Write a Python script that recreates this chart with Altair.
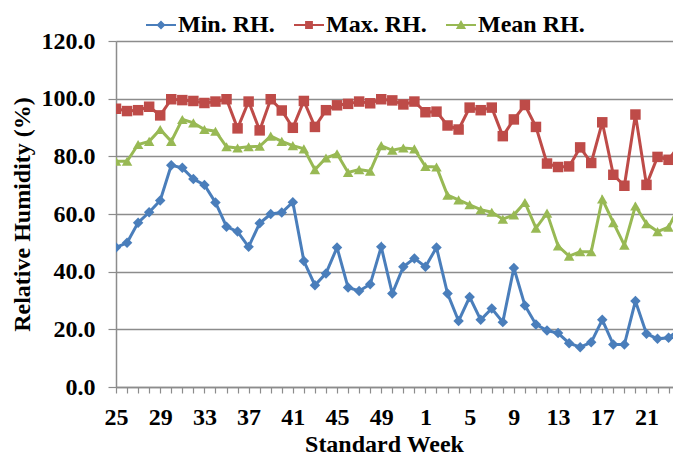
import json
import altair as alt
import pandas as pd

weeks = [25, 26, 27, 28, 29, 30, 31, 32, 33, 34, 35, 36, 37, 38, 39, 40, 41, 42, 43, 44,
         45, 46, 47, 48, 49, 50, 51, 52, 1, 2, 3, 4, 5, 6, 7, 8, 9, 10, 11, 12,
         13, 14, 15, 16, 17, 18, 19, 20, 21, 22, 23, 24]

min_rh = [48.4, 50.0, 57.0, 60.6, 64.7, 76.9, 76.0, 72.1, 70.1, 64.0, 55.6, 53.9, 48.6,
          56.8, 60.0, 60.5, 64.1, 43.7, 35.3, 39.4, 48.4, 34.5, 33.3, 35.6, 48.6, 32.4,
          41.7, 44.6, 41.7, 48.4, 32.4, 22.9, 31.2, 23.3, 27.2, 22.5, 41.3, 28.3, 21.7,
          19.6, 18.7, 15.2, 13.8, 15.5, 23.3, 14.7, 14.7, 29.8, 18.5, 16.7, 17.1, 20.0]

max_rh = [96.5, 95.7, 96.0, 97.2, 94.2, 99.8, 99.5, 99.2, 98.5, 99.0, 99.8, 89.7, 99.0,
          89.0, 99.8, 95.9, 89.9, 99.2, 90.2, 96.0, 97.7, 98.2, 99.0, 98.4, 99.8, 99.4,
          98.0, 99.0, 95.3, 95.5, 90.7, 89.3, 96.9, 96.0, 96.9, 87.0, 92.8, 97.8, 90.2,
          77.5, 76.3, 76.5, 83.1, 77.7, 91.8, 73.6, 69.8, 94.5, 70.1, 79.8, 78.8, 84.0]

mean_rh = [78.3, 78.3, 84.1, 85.2, 89.3, 85.2, 92.8, 91.6, 89.3, 88.7, 83.3, 82.9, 83.3,
           83.5, 87.0, 85.2, 83.7, 82.6, 75.4, 79.4, 80.9, 74.4, 75.4, 74.8, 83.7, 82.1,
           82.9, 82.6, 76.5, 76.3, 66.5, 64.9, 63.2, 61.5, 60.6, 58.2, 59.7, 64.0, 55.1,
           60.3, 48.9, 45.4, 46.9, 46.9, 65.2, 57.0, 49.2, 62.8, 56.6, 53.9, 55.4, 63.0]

series_names = ["Min. RH.", "Max. RH.", "Mean RH."]
series_colors = ["#4A7EBB", "#BE4B48", "#98B954"]
y_ticks = [0, 20, 40, 60, 80, 100, 120]

rows = []
for name, vals in zip(series_names, [min_rh, max_rh, mean_rh]):
    for i, (w, v) in enumerate(zip(weeks, vals)):
        rows.append({"idx": i, "week": w, "value": v, "series": name})
df = pd.DataFrame(rows)

tick_labels = [str(w) if i % 4 == 0 else "" for i, w in enumerate(weeks)]
label_expr = json.dumps(tick_labels) + "[datum.value]"

FONT = "Liberation Serif"

x_enc = alt.X(
    "idx:Q",
    scale=alt.Scale(domain=[0, 50.4], nice=False, zero=False),
    axis=alt.Axis(
        title="Standard Week",
        values=list(range(0, 51)),
        labelExpr=label_expr,
        grid=False,
        tickSize=6,
        labelPadding=12,
        titlePadding=3,
        titleX=268,
        labelFlush=False,
        labelOverlap=False,
    ),
)
y_enc = alt.Y(
    "value:Q",
    scale=alt.Scale(domain=[0, 120], nice=False),
    axis=alt.Axis(
        title="Relative Humidity (%)",
        values=y_ticks,
        format=".1f",
        tickSize=8,
        labelPadding=13,
        titlePadding=7,
    ),
)

color_scale = alt.Scale(domain=series_names, range=series_colors)

lines = alt.Chart(df).mark_line(strokeWidth=3, clip=True).encode(
    x=x_enc, y=y_enc,
    color=alt.Color("series:N", scale=color_scale, legend=None),
    detail="series:N",
)

points = alt.Chart(df).mark_point(filled=True, opacity=1, clip=True, size=110).encode(
    x=x_enc, y=y_enc,
    color=alt.Color("series:N", scale=color_scale, legend=None),
    shape=alt.Shape("series:N",
                    scale=alt.Scale(domain=series_names, range=["diamond", "square", "triangle-up"]),
                    legend=None),
)

legend_paths = [
    "M-1,-0.06H1V0.06H-1Z M0,-0.3L0.3,0L0,0.3L-0.3,0Z",
    "M-1,-0.06H1V0.06H-1Z M-0.26,-0.26H0.26V0.26H-0.26Z",
    "M-1,-0.06H1V0.06H-1Z M0,-0.34L0.34,0.26H-0.34Z",
]

leg_common = dict(orient="none", legendX=30, legendY=-31, direction="horizontal",
                  title=None, symbolSize=900, labelOffset=2, columnPadding=19,
                  labelFont=FONT, labelFontSize=24, labelFontWeight="bold",
                  labelColor="black", symbolStrokeWidth=0, symbolOpacity=1)

legend_layer = alt.Chart(df).mark_point(filled=True, opacity=1).encode(
    x=x_enc, y=y_enc,
    color=alt.Color("series:N", scale=color_scale, legend=alt.Legend(**leg_common)),
    shape=alt.Shape("series:N", scale=alt.Scale(domain=series_names, range=legend_paths),
                    legend=alt.Legend(**leg_common)),
).transform_filter("false")

chart = alt.layer(lines, points, legend_layer).resolve_scale(
    color="independent", shape="independent"
).properties(
    width=557, height=346,
    autosize=alt.AutoSizeParams(type="none"),
    padding={"left": 116, "top": 41, "right": 0, "bottom": 75},
    background="white",
).configure_view(stroke=None).configure_axis(
    labelFont=FONT, labelFontSize=24, labelFontWeight="bold", labelColor="black",
    titleFont=FONT, titleFontSize=24, titleFontWeight="bold", titleColor="black",
    domainColor="#8C8C8C", domainWidth=1.5, tickColor="#8C8C8C", tickWidth=1.2,
    gridColor="#8C8C8C", gridWidth=1.3,
)

chart.save("out.html", embed_options={"renderer": "svg", "actions": False})
